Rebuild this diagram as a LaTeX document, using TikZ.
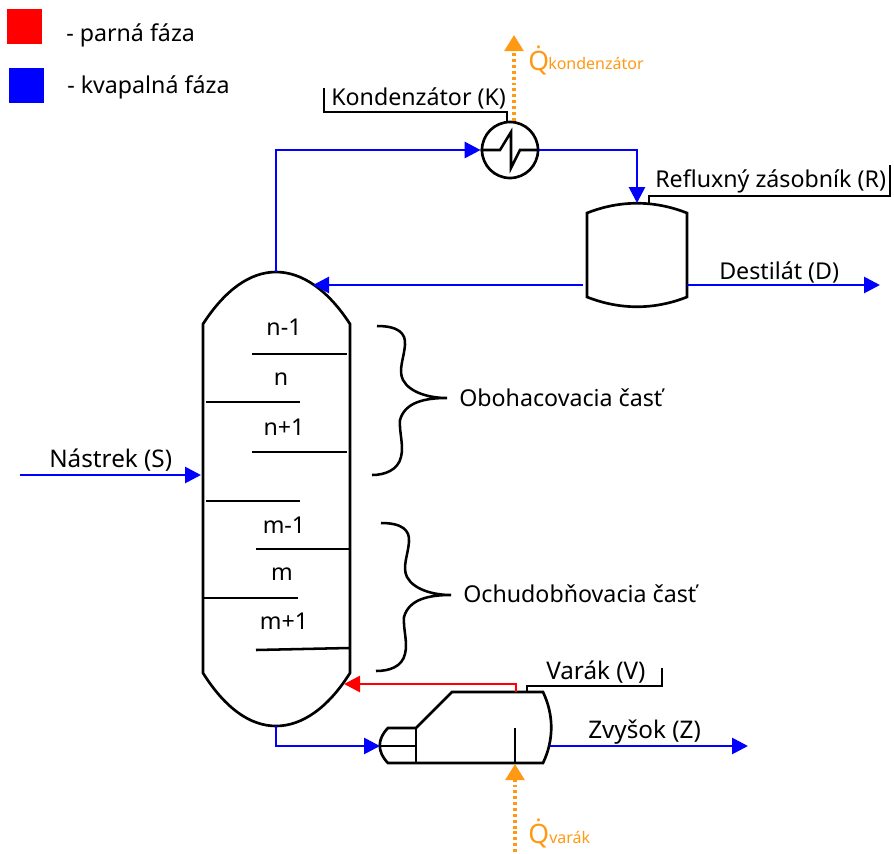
\documentclass[tikz,border=0pt]{standalone}
\usepackage{fontspec}
\usepackage{xcolor}
\setmainfont{Noto Sans}
\usetikzlibrary{calc,arrows.meta,positioning}
\definecolor{parnaRed}{RGB}{255,0,0}
\definecolor{kvapalnaBlue}{RGB}{0,0,255}
\definecolor{teploOrange}{RGB}{255,153,20}
\tikzset{
    lbl/.style={anchor=base west,inner sep=0pt,text=black,font=\fontsize{17.4}{21}\selectfont},
    lblw/.style={lbl,font=\fontsize{18.2}{21}\selectfont},
    lblc/.style={lbl,anchor=base},
    qlbl/.style={anchor=base west,inner sep=0pt,text=teploOrange,font=\fontsize{20}{24}\selectfont},
    qsub/.style={anchor=base west,inner sep=0pt,text=teploOrange,font=\fontsize{12}{14}\selectfont},
    equip/.style={draw=black,line width=2pt,line join=miter},
    leader/.style={draw=black,line width=1.9pt},
    tray/.style={draw=black,line width=1.9pt},
    kvap/.style={draw=kvapalnaBlue,line width=2.1pt,-{Triangle[length=12pt,width=12pt]}},
    para/.style={draw=parnaRed,line width=2.1pt,-{Triangle[length=12pt,width=12pt]}},
    teplo/.style={draw=teploOrange,line width=2.6pt,dash pattern=on 2.2pt off 2.2pt,-{Triangle[length=12pt,width=14pt,fill=teploOrange]}},
    legendbox/.style={minimum size=26.4pt,inner sep=0pt,anchor=north west}
}
\begin{document}
\begin{tikzpicture}[x=0.75pt,y=-0.75pt]
    \useasboundingbox (0,0) rectangle (894,854);
    % legend
    \node[legendbox,fill=parnaRed] (legRed) at (7,9) {};
    \node[legendbox,fill=kvapalnaBlue] (legBlue) at (9,68) {};
    \node[lbl] (legRedText) at (66,41) {- parná fáza};
    \node[lbl] (legBlueText) at (67,93) {- kvapalná fáza};

    % column
    \draw[equip] (203,324) .. controls (225,290) and (250,272) .. (276,272)
        .. controls (302,272) and (328,290) .. (350,324) -- (350,673)
        .. controls (328,708) and (302,726) .. (276,726)
        .. controls (250,726) and (225,708) .. (203,673) -- cycle;

    % trays
    \draw[tray] (252,354) -- (347,354);
    \draw[tray] (206,402) -- (300,402);
    \draw[tray] (252,452) -- (347,452);
    \draw[tray] (206,501) -- (300,501);
    \draw[tray] (256,549) -- (349,549);
    \draw[tray] (203,598) -- (298,598);
    \draw[tray] (256,650) -- (349,648);
    \node[lblc] (trayA) at (284,335) {n-1};
    \node[lblc] (trayB) at (281,385) {n};
    \node[lblc] (trayC) at (284,435) {n+1};
    \node[lblc] (trayD) at (284,533) {m-1};
    \node[lblc] (trayE) at (282,580) {m};
    \node[lblc] (trayF) at (284,629) {m+1};

    % braces
    \draw[leader] (377,326) .. controls (398,326) and (406,333) .. (405,345)
        .. controls (404,358) and (398,370) .. (403,380)
        .. controls (410,393) and (430,398) .. (447,398)
        .. controls (425,398) and (405,402) .. (400,420)
        .. controls (399,432) and (404,445) .. (401,457)
        .. controls (398,470) and (385,475) .. (372,475);
    \draw[leader] (381,523) .. controls (402,523) and (410,530) .. (409,542)
        .. controls (408,555) and (402,567) .. (407,577)
        .. controls (414,590) and (434,595) .. (451,595)
        .. controls (429,595) and (409,599) .. (404,617)
        .. controls (403,629) and (408,642) .. (405,654)
        .. controls (402,667) and (389,671) .. (376,671);
    \node[lbl] (enrich) at (459,406) {Obohacovacia časť};
    \node[lbl] (strip) at (463,602) {Ochudobňovacia časť};

    % condenser
    \node[circle,draw=black,line width=2pt,minimum size=42pt,inner sep=0pt] (kond) at (510,150) {};
    \draw[tray] (kond.west) -- (500,150) -- (511,132) -- (511,168) -- (520,150) -- (kond.east);
    \coordinate (kondTag) at (324,88);
    \coordinate (kondJoin) at (507,123);
    \draw[leader] (kondTag) -- (324,112) -| (kondJoin);
    \node[lbl] (kondText) at (331,105) {Kondenzátor (K)};

    % drum
    \draw[equip] (587,213) .. controls (620,200) and (654,200) .. (687,213) -- (687,297)
        .. controls (654,310) and (620,310) .. (587,297) -- cycle;
    \coordinate (drumTop) at (637,203);
    \coordinate (drumLeft) at (583,285);
    \coordinate (drumRight) at (687,285);
    \coordinate (drumTag) at (890,165);
    \draw[leader] (649,203) -- (649,196) -- (890,196) -- (drumTag);
    \node[lbl] (drumText) at (655,187) {Refluxný zásobník (R)};

    % reboiler
    \draw[equip] (388,728) -- (416,728) -- (452,692) -- (543,692)
        .. controls (554,715) and (554,740) .. (543,763) -- (388,763)
        .. controls (377,752) and (377,739) .. (388,728) -- cycle;
    \draw[equip] (416,728) -- (416,763);
    \draw[equip] (380,746) -- (416,746);
    \draw[equip] (515,728) -- (515,763);
    \coordinate (varakTag) at (662,668);
    \draw[leader] (527,692) -- (527,686) -- (662,686) -- (varakTag);
    \node[lblw] (varakText) at (546,679) {Varák (V)};

    % streams
    \coordinate (colTop) at (276,272);
    \coordinate (colRefl) at (313,285);
    \coordinate (colFeed) at (201,475);
    \coordinate (colBot) at (276,726);
    \coordinate (colVap) at (344,684);
    \coordinate (feedIn) at (20,475);
    \coordinate (destOut) at (880,285);
    \coordinate (rebLeft) at (380,746);
    \coordinate (rebRight) at (550,746);
    \coordinate (rebTop) at (516,692);
    \coordinate (rebBot) at (515,764);
    \coordinate (zOut) at (748,746);
    \coordinate (qkTop) at (514,35);
    \coordinate (qvIn) at (515,852);
    \draw[kvap] (colTop) |- (kond.west);
    \draw[kvap] (kond.east) -| (drumTop);
    \draw[kvap] (drumLeft) -- (colRefl);
    \draw[kvap] (drumRight) -- (destOut);
    \draw[kvap] (feedIn) -- (colFeed);
    \draw[kvap] (colBot) |- (rebLeft);
    \draw[kvap] (rebRight) -- (zOut);
    \draw[para] (rebTop) |- (colVap);
    \draw[teplo] (kond.north) ++(4,0) -- (qkTop);
    \draw[teplo] (qvIn) -- (rebBot);

    \node[lbl] (destText) at (719,279) {Destilát (D)};
    \node[lblw] (feedText) at (49,467) {Nástrek (S)};
    \node[lblw] (zText) at (588,738) {Zvyšok (Z)};
    \node[qlbl] (qkText) at (528,70) {Q̇};
    \node[qsub] (qkSub) at (548,69) {kondenzátor};
    \node[qlbl] (qvText) at (528,843) {Q̇};
    \node[qsub] (qvSub) at (549,843) {varák};
\end{tikzpicture}
\end{document}
